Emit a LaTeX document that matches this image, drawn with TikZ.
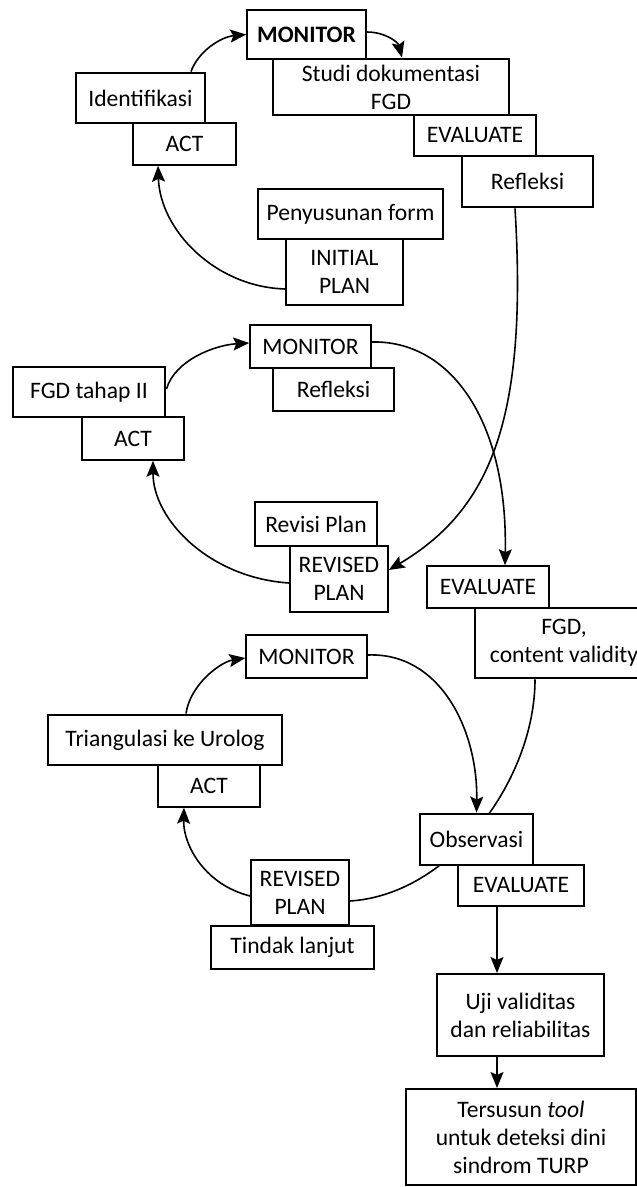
\documentclass[tikz,border=0pt]{standalone}
\usepackage{fontspec}
\setmainfont{Carlito}
\usetikzlibrary{arrows.meta}
\pgfdeclarelayer{bg}
\pgfsetlayers{bg,main}
\tikzset{
 box/.style={draw, fill=white, inner sep=0pt, align=center, font=\fontsize{23.6}{28}\selectfont},
 thk/.style={box, line width=2.9pt},
 thn/.style={box, line width=1.5pt},
 med/.style={box, line width=2pt},
 arr/.style={line width=1.6pt, -{Stealth[length=16pt,width=13pt,inset=3pt]}},
 ln/.style={line width=1.6pt},
}
\begin{document}
\begin{tikzpicture}[x=1pt,y=-1pt]
\useasboundingbox (0,0) rectangle (637,1187);
\clip (0,0) rectangle (637,1187);
% cycle 1
\node[thn, minimum width=119pt, minimum height=49pt] (mon1) at (306.5,34.5) {\textbf{MONITOR}};
\node[thk, minimum width=236pt, minimum height=56pt] (studi) at (391,87) {Studi dokumentasi\\FGD};
\node[thn, minimum width=122pt, minimum height=41pt] (eval1) at (475,135.5) {EVALUATE};
\node[thk, minimum width=131pt, minimum height=51pt] (refl1) at (527.5,181.5) {Refleksi};
\node[thn, minimum width=103pt, minimum height=42pt] (act1) at (184.5,144) {ACT};
\node[thk, minimum width=129pt, minimum height=50pt] (ident) at (140.5,98) {Identifikasi};
\node[thn, minimum width=117pt, minimum height=66pt] (init) at (344.5,272) {INITIAL\\PLAN};
\node[thk, minimum width=185pt, minimum height=50pt] (penyu) at (350.5,214) {Penyusunan form};
% cycle 2
\node[thn, minimum width=121pt, minimum height=43pt] (mon2) at (310.5,346.5) {MONITOR};
\node[thk, minimum width=121pt, minimum height=43pt] (refl2) at (333.5,389.5) {Refleksi};
\node[thn, minimum width=102pt, minimum height=43pt] (act2) at (133,438.5) {ACT};
\node[thk, minimum width=152pt, minimum height=50pt] (fgd2) at (89,392) {FGD tahap II};
\node[thn, minimum width=98pt, minimum height=66pt] (rev2) at (339,579) {REVISED\\PLAN};
\node[thk, minimum width=122pt, minimum height=44pt] (revisi) at (316,524) {Revisi Plan};
\node[thn, minimum width=122pt, minimum height=42pt] (eval2) at (488,587) {EVALUATE};
\node[thk, minimum width=178pt, minimum height=70pt] (fgdcv) at (564,643) {FGD,\\content validity};
% cycle 3
\node[thn, minimum width=121pt, minimum height=43pt] (mon3) at (306.5,656.5) {MONITOR};
\node[thn, minimum width=102pt, minimum height=42pt] (act3) at (209,786) {ACT};
\node[thk, minimum width=234pt, minimum height=50pt] (triang) at (165,740) {Triangulasi ke Urolog};
\node[thn, minimum width=126pt, minimum height=41pt] (eval3) at (521,885.5) {EVALUATE};
\node[thk, minimum width=113pt, minimum height=51pt] (obs) at (476.5,839.5) {Observasi};
\node[thn, minimum width=98pt, minimum height=65pt] (rev3) at (300,892.5) {REVISED\\PLAN};
\node[thk, minimum width=163pt, minimum height=43pt] (tindak) at (292.5,947.5) {Tindak lanjut};
\node[med, minimum width=167pt, minimum height=82pt] (uji) at (520.5,1015) {Uji validitas\\dan reliabilitas};
\node[med, minimum width=230pt, minimum height=96pt] (ters) at (521,1137) {Tersusun \textit{tool}\\untuk deteksi dini\\sindrom TURP};
% connectors
\begin{pgfonlayer}{bg}
\draw[arr] ([xshift=50.5pt]ident.north) .. controls (198,52) and (220,37) .. (mon1.west);
\draw[arr] ([yshift=2.5pt]mon1.east) .. controls (385,32) and (398,42) .. ([xshift=11pt]studi.north);
\draw[arr] ([yshift=-17pt]init.west) .. controls (215,287) and (160,230) .. ([xshift=-26.5pt]act1.south);
\draw[arr] ([xshift=-12.5pt]refl1.south) .. controls (528,420) and (490,510) .. ([yshift=9pt]rev2.east);
\draw[arr] ([yshift=4.5pt]mon2.east) .. controls (450,340) and (508,420) .. ([xshift=17pt]eval2.north);
\draw[arr] ([yshift=3pt]fgd2.east) .. controls (175,360) and (215,345) .. ([yshift=3.5pt]mon2.west);
\draw[arr] ([yshift=-4pt]rev2.west) .. controls (210,578) and (153,520) .. ([xshift=20pt]act2.south);
\draw[ln] ([xshift=-29pt]fgdcv.south) .. controls (535,780) and (450,895) .. ([yshift=-8.5pt]rev3.east);
\draw[arr] ([yshift=1.5pt]mon3.east) .. controls (440,652) and (478,730) .. (obs.north);
\draw[arr] ([xshift=21pt]triang.north) .. controls (190,685) and (220,662) .. ([yshift=-1.5pt]mon3.west);
\draw[arr] ([yshift=-3.5pt]rev3.west) .. controls (205,885) and (183,845) .. ([xshift=-25pt]act3.south);
\draw[arr] ([xshift=-24pt]eval3.south) -- ([xshift=-24pt]eval3.south |- uji.north);
\draw[arr] ([xshift=-23.5pt]uji.south) -- ([xshift=-23.5pt]uji.south |- ters.north);
\end{pgfonlayer}
\end{tikzpicture}
\end{document}
